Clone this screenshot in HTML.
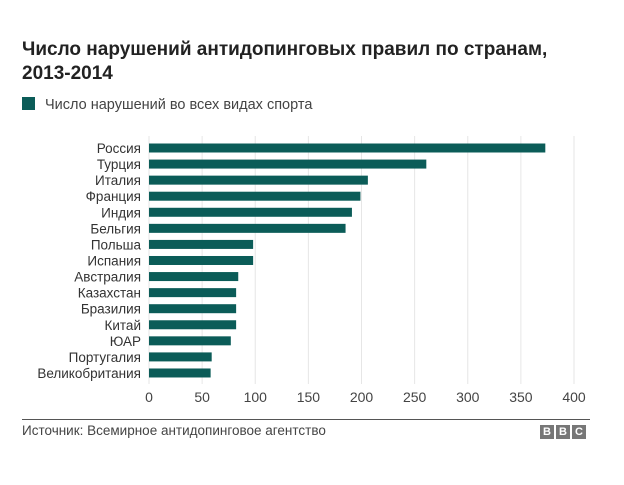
<!DOCTYPE html>
<html><head><meta charset="utf-8">
<style>
body{margin:0;width:624px;height:485px;background:#fff;font-family:"Liberation Sans",sans-serif;overflow:hidden;position:relative}
.t{position:absolute;left:22px;font-weight:bold;font-size:19px;color:#222;line-height:24px}
</style></head><body>
<div class="t" style="top:38px">Число нарушений антидопинговых правил по странам,<br>2013-2014</div>
<div style="position:absolute;left:22px;top:97px;font-size:14.5px;color:#444">
<span style="display:inline-block;width:13px;height:13px;background:#0b5c58;vertical-align:-1px;margin-right:10px"></span>Число нарушений во всех видах спорта</div>
<svg id="c" width="624" height="485" style="position:absolute;left:0;top:0"></svg>
<div style="position:absolute;left:22px;top:419px;width:568px;height:1px;background:#555"></div>
<div style="position:absolute;left:22px;top:423px;font-size:13.5px;color:#444">Источник: Всемирное антидопинговое агентство</div>
<div style="position:absolute;left:540px;top:425px;display:flex;gap:2px">
<span style="width:14px;height:14px;background:#777;color:#fff;font-size:11px;font-weight:bold;text-align:center;line-height:14px">B</span>
<span style="width:14px;height:14px;background:#777;color:#fff;font-size:11px;font-weight:bold;text-align:center;line-height:14px">B</span>
<span style="width:14px;height:14px;background:#777;color:#fff;font-size:11px;font-weight:bold;text-align:center;line-height:14px">C</span></div>
<script>
const categories=["Россия","Турция","Италия","Франция","Индия","Бельгия","Польша","Испания","Австралия","Казахстан","Бразилия","Китай","ЮАР","Португалия","Великобритания"];
const values=[373,261,206,199,191,185,98,98,84,82,82,82,77,59,58];
const ticks=[0,50,100,150,200,250,300,350,400];
const svg=document.getElementById('c');const NS="http://www.w3.org/2000/svg";
const x=v=>149+v*1.0625;const y=i=>148+i*16.07;
function mk(t,a){const e=document.createElementNS(NS,t);for(const k in a)e.setAttribute(k,a[k]);svg.appendChild(e);return e;}
ticks.forEach(t=>{
const g=mk('line',{x1:x(t),x2:x(t),y1:136,y2:384,stroke:'#e6e6e6','stroke-width':1});


const l=mk('text',{x:x(t),y:402,'text-anchor':'middle','font-size':14,fill:'#444'});l.textContent=t;


});
categories.forEach((c,i)=>{
const b=mk('rect',{x:x(0),y:y(i)-4.5,width:x(values[i])-x(0),height:9,fill:'#0b5c58'});


const l=mk('text',{x:141,y:y(i)+5,'text-anchor':'end','font-size':13.5,fill:'#333'});l.textContent=c;


});
</script>
</body></html>
